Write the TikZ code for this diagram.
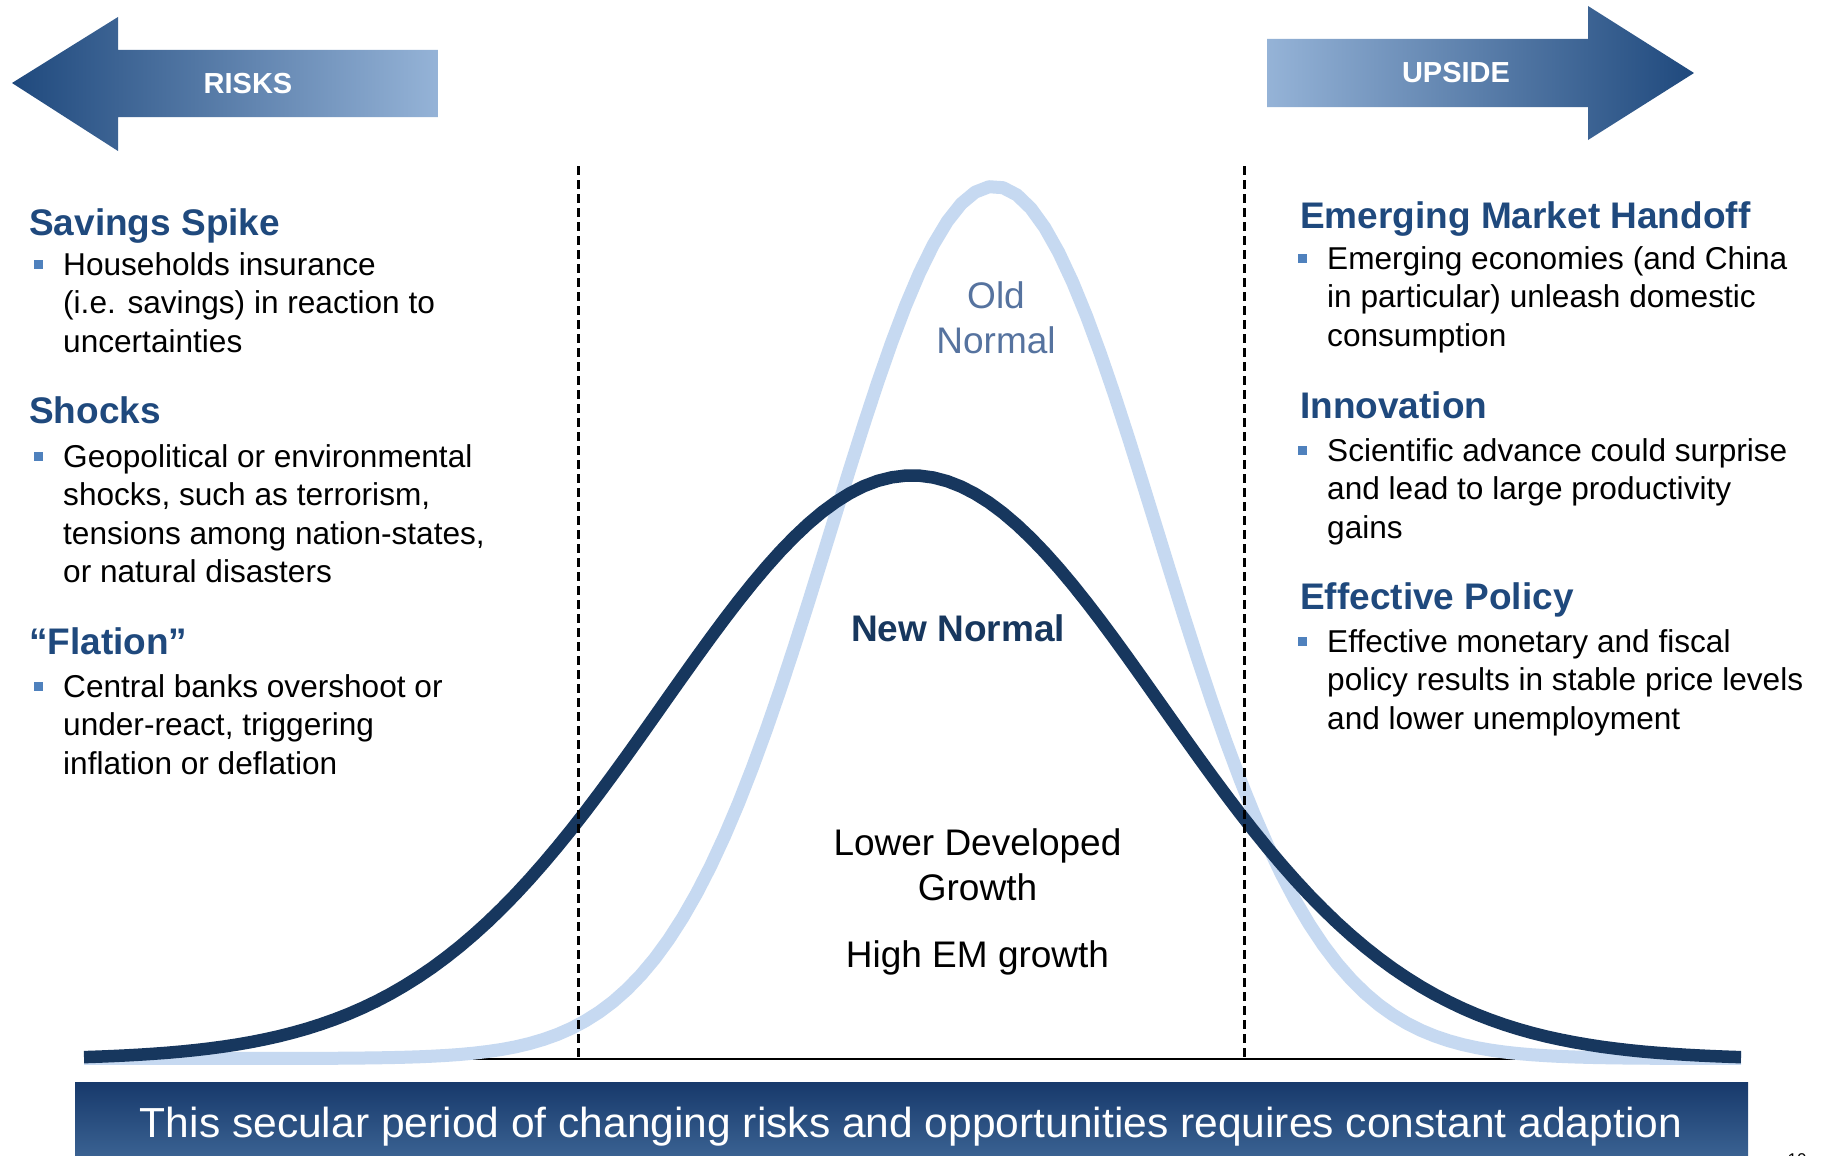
\documentclass[tikz,border=0pt]{standalone}
\usepackage{fontspec}
\setmainfont{Liberation Sans}
\usepackage{graphicx}

\definecolor{headblue}{HTML}{1F497D}
\definecolor{navy}{HTML}{17375E}
\definecolor{paleblue}{HTML}{C6D9F1}
\definecolor{oldblue}{HTML}{56739F}
\definecolor{bulletblue}{HTML}{4F81BD}
\definecolor{arrowdark}{HTML}{1F497D}
\definecolor{arrowlight}{HTML}{95B3D7}
\definecolor{bannertop}{HTML}{17396B}
\definecolor{bannerbottom}{HTML}{3C6494}

% stacked lines: baseline of the box is the baseline of the first line
\newcommand\linesl[1]{\vtop{\let\\\cr\halign{##\hfil\cr#1\crcr}}}
\newcommand\linesc[1]{\vtop{\let\\\cr\halign{\hfil##\hfil\cr#1\crcr}}}

\begin{document}
\begin{tikzpicture}[x=1pt,y=-1pt,
  heading/.style={anchor=base west, inner sep=0pt, text=headblue,
    font=\fontsize{37}{44}\selectfont\bfseries},
  bodytext/.style={anchor=base west, inner sep=0pt, text=black,
    font=\fontsize{31.6}{38.5}\selectfont},
  bsq/.style={fill=bulletblue, minimum size=9pt, inner sep=0pt},
  arrowlabel/.style={text=white, inner sep=0pt,
    font=\fontsize{29}{32}\selectfont\bfseries},
  centertext/.style={anchor=base, inner sep=0pt,
    font=\fontsize{37}{45}\selectfont},
  divider/.style={line width=3pt, dash pattern=on 9pt off 5pt},
  newcurve/.style={draw=navy, line width=12.5pt, line join=round},
  oldcurve/.style={draw=paleblue, line width=13pt, line join=round},
]
\useasboundingbox (0,0) rectangle (1828,1156);
\clip (0,0) rectangle (1828,1156);
\fill[white] (0,0) rectangle (1828,1156);

% direction arrows
\shade[left color=arrowdark, right color=arrowlight]
  (12,83) -- (118,17) -- (118,50) -- (438,50) -- (438,117)
  -- (118,117) -- (118,151) -- cycle;
\shade[left color=arrowlight, right color=arrowdark]
  (1267,39) -- (1588,39) -- (1588,6) -- (1694,73) -- (1588,140)
  -- (1588,107) -- (1267,107) -- cycle;
\node[arrowlabel] (risks-label) at (248,84) {RISKS};
\node[arrowlabel] (upside-label) at (1456,73) {UPSIDE};

% horizontal axis
\coordinate (axis-l) at (84,1059);
\coordinate (axis-r) at (1741,1059);
\draw[line width=2pt, black] (axis-l) -- (axis-r);

% distributions
\draw[oldcurve] plot[domain=84:1741, samples=120]
  (\x, {1058.5 - 872*exp(-0.5*((\x-994)/163)*((\x-994)/163))});
\draw[newcurve] plot[domain=84:1741, samples=120]
  (\x, {1059.5 - 584*exp(-0.5*((\x-912)/249.5)*((\x-912)/249.5))});

% tail boundaries
\coordinate (dl-top) at (578,166);
\coordinate (dl-bot) at (578,1058);
\coordinate (dr-top) at (1244,166);
\coordinate (dr-bot) at (1244,1058);
\draw[divider] (dl-top) -- (dl-bot);
\draw[divider] (dr-top) -- (dr-bot);

% risks column
\node[heading] (sav-h) at (29,235) {Savings Spike};
\node[bsq] (sav-b) at (38,264) {};
\node[bodytext] (sav-t) at (63,275) {\linesl{Households insurance\\(i.e. savings) in reaction to\\uncertainties}};

\node[heading] (sho-h) at (29,423) {Shocks};
\node[bsq] (sho-b) at (38,456) {};
\node[bodytext] (sho-t) at (63,467) {\linesl{Geopolitical or environmental\\shocks, such as terrorism,\\tensions among nation-states,\\or natural disasters}};

\node[heading] (fla-h) at (29,654) {“Flation”};
\node[bsq] (fla-b) at (38,686) {};
\node[bodytext] (fla-t) at (63,697) {\linesl{Central banks overshoot or\\under-react, triggering\\inflation or deflation}};

% upside column
\node[heading] (emh-h) at (1300,228) {Emerging Market Handoff};
\node[bsq] (emh-b) at (1302,258) {};
\node[bodytext] (emh-t) at (1327,269) {\linesl{Emerging economies (and China\\in particular) unleash domestic\\consumption}};

\node[heading] (inn-h) at (1300,418) {Innovation};
\node[bsq] (inn-b) at (1302,450) {};
\node[bodytext] (inn-t) at (1327,461) {\linesl{Scientific advance could surprise\\and lead to large productivity\\gains}};

\node[heading] (eff-h) at (1300,609) {Effective Policy};
\node[bsq] (eff-b) at (1302,641) {};
\node[bodytext] (eff-t) at (1327,652) {\linesl{Effective monetary and fiscal\\policy results in stable price levels\\and lower unemployment}};

% curve labels
\node[centertext, text=oldblue] (old-label) at (996,308) {\linesc{Old\\Normal}};
\node[centertext, text=navy, font=\fontsize{37}{45}\selectfont\bfseries] (new-label) at (958,641) {New Normal};
\node[centertext, text=black] (dev-label) at (977.5,855) {\linesc{Lower Developed\\Growth}};
\node[centertext, text=black] (em-label) at (977.5,967) {High EM growth};

% bottom banner
\shade[top color=bannertop, bottom color=bannerbottom] (75,1082) rectangle (1748,1160);
\node[anchor=base, inner sep=0pt, text=white] (banner-text) at (911,1137)
  {\resizebox{1542pt}{\height}{\fontsize{42}{46}\selectfont This secular period of changing risks and opportunities requires constant adaption}};

% page number
\node[anchor=north, inner sep=0pt, font=\fontsize{17}{20}\selectfont] (page-num) at (1797,1153) {10};
\end{tikzpicture}
\end{document}
